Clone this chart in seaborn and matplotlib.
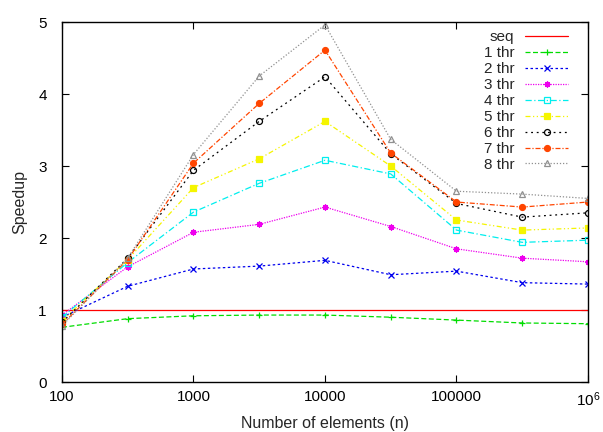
import matplotlib
matplotlib.use("Agg")
import matplotlib.pyplot as plt
import seaborn as sns
from matplotlib.ticker import FixedLocator, FixedFormatter, NullLocator

# Problem sizes (number of elements) and measured speedups
sizes = [100, 316, 1000, 3162, 10000, 31623, 100000, 316228, 1000000]
seq = [1.0, 1.0, 1.0, 1.0, 1.0, 1.0, 1.0, 1.0, 1.0]
thr1 = [0.76, 0.88, 0.92, 0.93, 0.93, 0.90, 0.86, 0.82, 0.81]
thr2 = [0.90, 1.33, 1.57, 1.61, 1.69, 1.49, 1.54, 1.38, 1.36]
thr3 = [0.93, 1.60, 2.08, 2.19, 2.43, 2.16, 1.85, 1.72, 1.67]
thr4 = [0.90, 1.66, 2.36, 2.76, 3.08, 2.89, 2.11, 1.94, 1.97]
thr5 = [0.85, 1.70, 2.70, 3.10, 3.62, 3.00, 2.25, 2.11, 2.14]
thr6 = [0.83, 1.72, 2.94, 3.62, 4.24, 3.17, 2.48, 2.29, 2.35]
thr7 = [0.80, 1.70, 3.04, 3.87, 4.61, 3.18, 2.50, 2.43, 2.50]
thr8 = [0.78, 1.72, 3.16, 4.25, 4.96, 3.37, 2.65, 2.61, 2.55]

labels = ["seq", "1 thr", "2 thr", "3 thr", "4 thr", "5 thr", "6 thr", "7 thr", "8 thr"]
xtick_values = [100, 1000, 10000, 100000, 1000000]
xtick_labels = ["100", "1000", "10000", "100000", r"$\mathregular{10^{6}}$"]
ytick_values = [0, 1, 2, 3, 4, 5]

sns.set_style("ticks")
plt.rcParams["font.family"] = ["Liberation Sans", "DejaVu Sans"]
plt.rcParams["font.size"] = 11

series = [seq, thr1, thr2, thr3, thr4, thr5, thr6, thr7, thr8]
styles = [
    dict(color="#ff0000", marker=None, linestyle="-"),
    dict(color="#00dd00", marker="+", linestyle=(0, (4, 2))),
    dict(color="#0000ee", marker="x", linestyle=(0, (2, 2))),
    dict(color="#ee00ee", marker=(8, 2, 0), linestyle=(0, (1, 1))),
    dict(color="#00eeee", marker="s", mfc="none", linestyle=(0, (5, 2, 1, 2))),
    dict(color="#f5f500", marker="s", linestyle=(0, (4, 2, 1, 2, 1, 2))),
    dict(color="#000000", marker="o", mfc="none", linestyle=(0, (1.5, 3))),
    dict(color="#ff4500", marker="o", linestyle=(0, (4, 1.5, 1, 1.5))),
    dict(color="#909090", marker="^", mfc="none", linestyle=(0, (1, 1.5))),
]

fig = plt.figure(figsize=(6.03, 4.32), dpi=100)
ax = fig.add_axes([0.1028, 0.1157, 0.8723, 0.8333])

for lab, vals, st in zip(labels, series, styles):
    sns.lineplot(x=sizes, y=vals, ax=ax, label=lab, linewidth=0.9,
                 markersize=4.3, markeredgewidth=0.9,
                 markeredgecolor=st["color"], **st)

ax.set_xscale("log")
ax.set_xlim(100, 1000000)
ax.set_ylim(0, 5)
ax.xaxis.set_major_locator(FixedLocator(xtick_values))
ax.xaxis.set_major_formatter(FixedFormatter(xtick_labels))
ax.xaxis.set_minor_locator(NullLocator())
ax.set_yticks(ytick_values)
ax.tick_params(direction="in", top=True, right=True, length=5, width=0.8,
               labelsize=11, colors="black")
ax.tick_params(axis="y", pad=11)
ax.tick_params(axis="x", pad=6)
for sp in ax.spines.values():
    sp.set_visible(True)
    sp.set_linewidth(1.0)
    sp.set_color("black")

ax.set_xlabel("Number of elements (n)", fontsize=11.5, labelpad=5)
ax.set_ylabel("Speedup", fontsize=11.5, labelpad=8)

ax.legend(loc="upper right", bbox_to_anchor=(0.962, 0.978), frameon=False,
          markerfirst=False, numpoints=1, handlelength=2.8, handletextpad=0.7,
          labelspacing=0.13, borderpad=0, borderaxespad=0, fontsize=11)

fig.savefig("out.png", dpi=100)
